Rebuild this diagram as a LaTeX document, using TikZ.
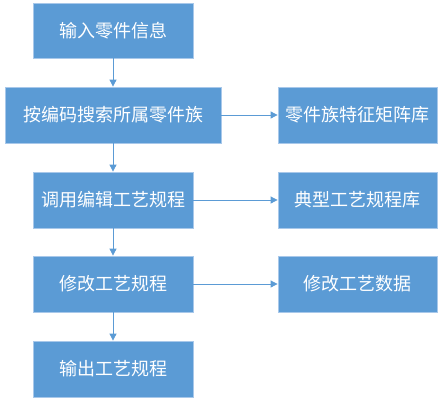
\documentclass[tikz,border=0pt]{standalone}
\usepackage{fontspec}
\newfontfamily\cjk{Noto Sans CJK SC}
\usetikzlibrary{arrows.meta,shadows}
\definecolor{boxfill}{HTML}{5B9BD5}
\definecolor{boxline}{HTML}{A8C8EA}
\definecolor{arrowc}{HTML}{5B9BD5}
\begin{document}
\begin{tikzpicture}[x=1pt,y=1pt,
  box/.style={rectangle, fill=boxfill, draw=boxline, line width=0.8pt,
    text=white, font=\cjk\fontsize{18}{21}\selectfont, inner sep=0pt,
    drop shadow={shadow xshift=0.8pt, shadow yshift=-0.8pt, opacity=0.25, fill=gray}},
  link/.style={draw=arrowc, line width=0.8pt, -{Triangle[length=7pt,width=7pt]}}]
\useasboundingbox (0,0) rectangle (443,-405);
\node[box, minimum width=160pt, minimum height=55pt] (a) at (113,-30.5) {输入零件信息};
\node[box, minimum width=216pt, minimum height=56pt] (b) at (113,-115) {按编码搜索所属零件族};
\node[box, minimum width=159pt, minimum height=56pt] (c) at (357.5,-115) {零件族特征矩阵库};
\node[box, minimum width=160pt, minimum height=56pt] (d) at (113,-200) {调用编辑工艺规程};
\node[box, minimum width=159pt, minimum height=56pt] (e) at (357.5,-200) {典型工艺规程库};
\node[box, minimum width=160pt, minimum height=56pt] (f) at (113,-284) {修改工艺规程};
\node[box, minimum width=159pt, minimum height=56pt] (g) at (357.5,-284) {修改工艺数据};
\node[box, minimum width=160pt, minimum height=56pt] (h) at (113,-369) {输出工艺规程};
\draw[link] (a) -- (b);
\draw[link] (b) -- (d);
\draw[link] (d) -- (f);
\draw[link] (f) -- (h);
\draw[link] (b) -- (c);
\draw[link] (d) -- (e);
\draw[link] (f) -- (g);
\end{tikzpicture}
\end{document}
